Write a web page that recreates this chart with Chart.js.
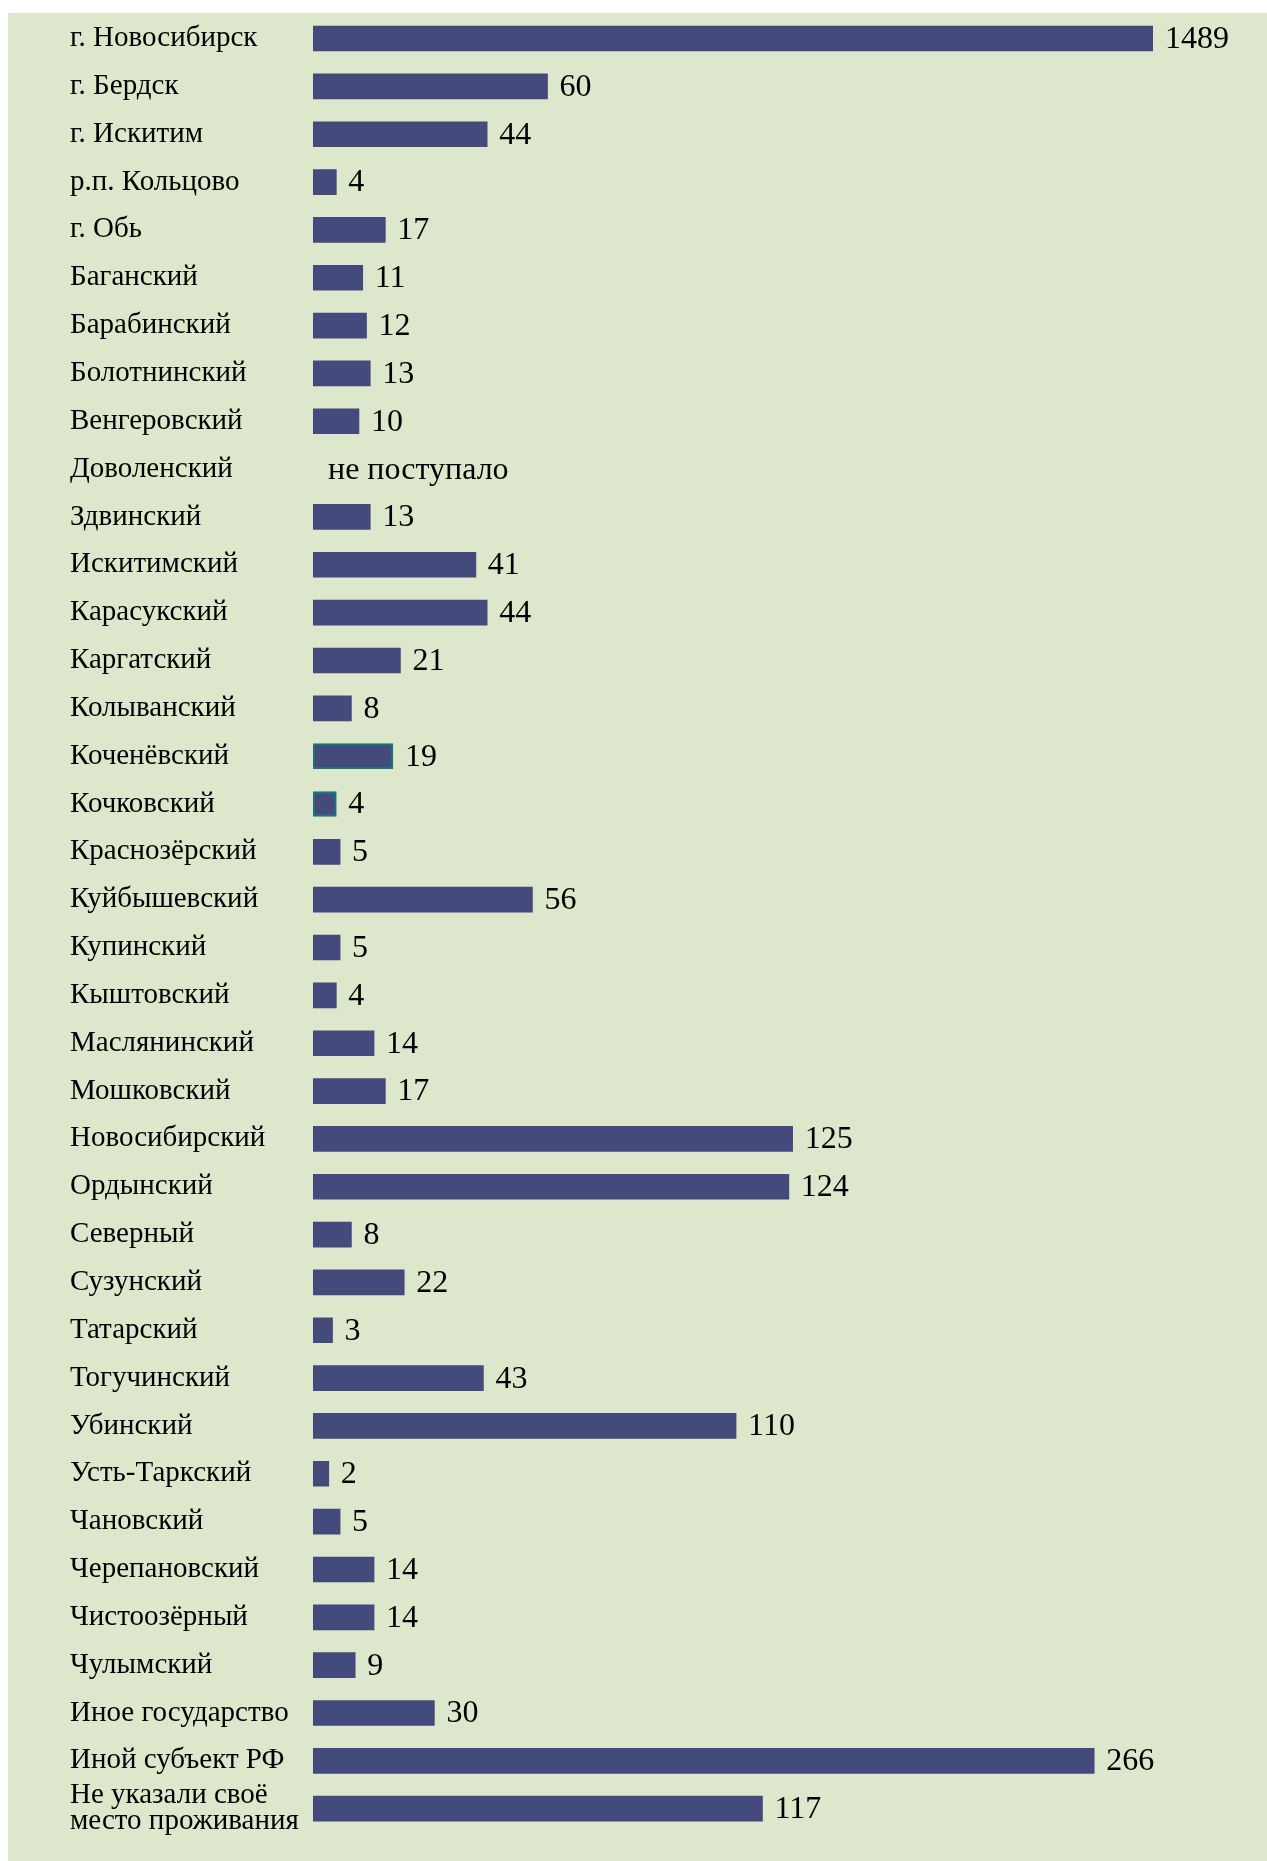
<!DOCTYPE html>
<html>
<head>
<meta charset="utf-8">
<script src="https://cdn.jsdelivr.net/npm/chart.js@4"></script>
<style>
  html, body { margin: 0; padding: 0; background: #fff; overflow: hidden; }
  #wrap { position: relative; width: 1267px; height: 1861px; }
</style>
</head>
<body>
<div id="wrap"><canvas id="myBarChart"></canvas></div>
<script>
// DATA
var categories = [
  'г. Новосибирск', 'г. Бердск', 'г. Искитим', 'р.п. Кольцово', 'г. Обь',
  'Баганский', 'Барабинский', 'Болотнинский', 'Венгеровский', 'Доволенский',
  'Здвинский', 'Искитимский', 'Карасукский', 'Каргатский', 'Колыванский',
  'Коченёвский', 'Кочковский', 'Краснозёрский', 'Куйбышевский', 'Купинский',
  'Кыштовский', 'Маслянинский', 'Мошковский', 'Новосибирский', 'Ордынский',
  'Северный', 'Сузунский', 'Татарский', 'Тогучинский', 'Убинский',
  'Усть-Таркский', 'Чановский', 'Черепановский', 'Чистоозёрный', 'Чулымский',
  'Иное государство', 'Иной субъект РФ', ['Не указали своё', 'место проживания']
];
var values = [
  1489, 60, 44, 4, 17,
  11, 12, 13, 10, null,
  13, 41, 44, 21, 8,
  19, 4, 5, 56, 5,
  4, 14, 17, 125, 124,
  8, 22, 3, 43, 110,
  2, 5, 14, 14, 9,
  30, 266, 117
];
var missingText = 'не поступало';
var outlined = ['Коченёвский', 'Кочковский'];

// broken value axis: value knots and the share of the axis they reach
var axisKnots = [0, 2, 125, 266, 1489];
var axisShare = [0, 0.0188, 0.571, 0.93, 1];

class BrokenScale extends Chart.LinearScale {
  getPixelForValue(value) {
    var v = Math.max(axisKnots[0], Math.min(value, axisKnots[axisKnots.length - 1]));
    var f = 0;
    for (var i = 1; i < axisKnots.length; i++) {
      if (v <= axisKnots[i]) {
        var t = (v - axisKnots[i - 1]) / (axisKnots[i] - axisKnots[i - 1]);
        f = axisShare[i - 1] + t * (axisShare[i] - axisShare[i - 1]);
        break;
      }
    }
    return this.left + f * this.width;
  }
  getValueForPixel(pixel) {
    var f = (pixel - this.left) / this.width;
    for (var i = 1; i < axisShare.length; i++) {
      if (f <= axisShare[i]) {
        var t = (f - axisShare[i - 1]) / (axisShare[i] - axisShare[i - 1]);
        return axisKnots[i - 1] + t * (axisKnots[i] - axisKnots[i - 1]);
      }
    }
    return axisKnots[axisKnots.length - 1];
  }
}
BrokenScale.id = 'broken';
BrokenScale.defaults = Chart.LinearScale.defaults;
Chart.register(BrokenScale);

var serif = '"Liberation Serif", "Times New Roman", serif';

//BACKGROUND
var panel = {
  id: 'panel',
  beforeDraw: function(chart) {
    var c = chart.ctx;
    c.save();
    c.fillStyle = '#dce7cb';
    c.fillRect(8, 13, chart.width - 8, chart.height - 13);
    c.restore();
  }
};

//VALUE LABELS
var valueLabels = {
  id: 'valueLabels',
  afterDatasetsDraw: function(chart) {
    var c = chart.ctx;
    var meta = chart.getDatasetMeta(0);
    c.save();
    c.fillStyle = '#000';
    c.font = '32px ' + serif;
    c.textBaseline = 'middle';
    c.textAlign = 'left';
    meta.data.forEach(function(bar, i) {
      var y = chart.scales.y.getPixelForValue(i);
      if (values[i] === null) {
        c.fillText(missingText, chart.chartArea.left + 15, y + 1);
      } else {
        c.fillText(String(values[i]), bar.x + 12, y + 1);
      }
    });
    c.restore();
  }
};

document.addEventListener('DOMContentLoaded', () => {
  var ctx = document.getElementById('myBarChart').getContext('2d');

  var chart = new Chart(ctx, {
    type: 'bar',
    data: {
      labels: categories,
      datasets: [{
        data: values,
        backgroundColor: '#454a7c',
        borderColor: '#127a74',
        borderWidth: function(c) {
          return outlined.indexOf(categories[c.dataIndex]) >= 0 ? 2 : 0;
        },
        borderSkipped: false,
        barThickness: 25
      }]
    },
    options: {
      indexAxis: 'y',
      responsive: true,
      maintainAspectRatio: false,
      animation: false,
      layout: { padding: { left: 70, right: 114, top: 14.6, bottom: 28.4 } },
      plugins: {
        legend: { display: false },
        tooltip: { enabled: false }
      },
      scales: {
        x: {
          type: 'broken',
          min: 0,
          max: 1489,
          display: false
        },
        y: {
          grid: { display: false },
          border: { display: false },
          ticks: {
            autoSkip: false,
            crossAlign: 'far',
            padding: 0,
            color: '#000',
            font: { family: serif, size: 29, lineHeight: 0.9 }
          },
          afterFit: function(scale) {
            scale.width = 243;
            scale.paddingTop = 0;
            scale.paddingBottom = 0;
          }
        }
      }
    },
    plugins: [panel, valueLabels]
  });
});
</script>
</body>
</html>
